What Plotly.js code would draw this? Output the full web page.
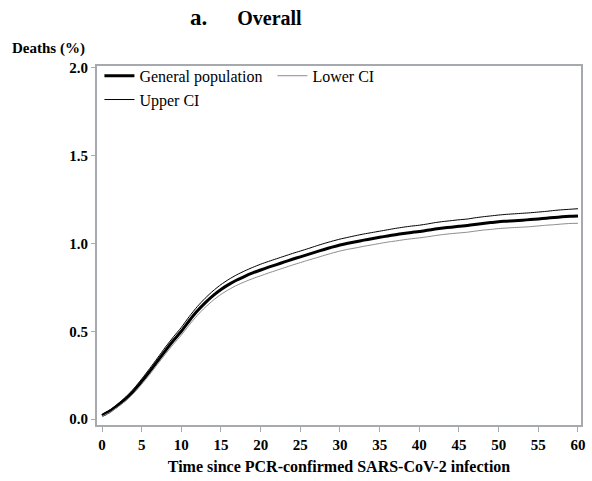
<!DOCTYPE html>
<html>
<head>
<meta charset="utf-8">
<script src="https://cdn.plot.ly/plotly-3.0.1.min.js"></script>
<style>html,body{margin:0;padding:0;background:#fff;}#chart{width:592px;height:481px;}</style>
</head>
<body>
<div id="chart"></div>
<script>
var days = [0,1,2,3,4,5,6,7,8,9,10,11,12,13,14,15,16,17,18,19,20,21,22,23,24,25,26,27,28,29,30,31,32,33,34,35,36,37,38,39,40,41,42,43,44,45,46,47,48,49,50,51,52,53,54,55,56,57,58,59,60];
var generalPopulation = [0.020,0.045,0.078,0.115,0.160,0.213,0.270,0.330,0.390,0.447,0.500,0.560,0.615,0.662,0.703,0.738,0.767,0.792,0.813,0.832,0.849,0.865,0.880,0.895,0.910,0.924,0.938,0.952,0.966,0.979,0.991,1.001,1.010,1.019,1.027,1.035,1.043,1.050,1.057,1.063,1.068,1.075,1.082,1.088,1.093,1.098,1.102,1.108,1.114,1.119,1.124,1.127,1.130,1.133,1.136,1.140,1.144,1.148,1.152,1.155,1.157];
var upperCI = [0.025,0.052,0.087,0.126,0.173,0.228,0.287,0.348,0.410,0.468,0.522,0.584,0.640,0.688,0.730,0.766,0.796,0.822,0.844,0.864,0.882,0.898,0.913,0.928,0.943,0.957,0.971,0.986,1.000,1.013,1.025,1.035,1.045,1.054,1.062,1.070,1.078,1.086,1.093,1.099,1.104,1.111,1.119,1.125,1.130,1.135,1.139,1.146,1.152,1.157,1.162,1.166,1.169,1.172,1.175,1.179,1.183,1.188,1.192,1.195,1.198];
var lowerCI = [0.015,0.038,0.069,0.104,0.147,0.198,0.253,0.312,0.370,0.426,0.478,0.536,0.590,0.636,0.676,0.710,0.738,0.762,0.782,0.800,0.816,0.832,0.847,0.862,0.877,0.891,0.905,0.918,0.932,0.945,0.957,0.967,0.975,0.984,0.992,1.000,1.008,1.014,1.021,1.027,1.032,1.038,1.045,1.051,1.056,1.060,1.064,1.070,1.076,1.080,1.085,1.088,1.091,1.093,1.096,1.100,1.104,1.107,1.111,1.114,1.115];
var xTicks = [0,5,10,15,20,25,30,35,40,45,50,55,60];
var yTicks = [0.0,0.5,1.0,1.5,2.0];
var yTickLabels = ['0.0','0.5','1.0','1.5','2.0'];

var serif = 'Liberation Serif';
var traces = [
  {x: days, y: generalPopulation, name: 'General population', mode: 'lines', line: {color: '#000000', width: 3, shape: 'spline', smoothing: 0.6}},
  {x: days, y: lowerCI, name: 'Lower CI', mode: 'lines', line: {color: '#8c8c8c', width: 1, shape: 'spline', smoothing: 0.6}},
  {x: days, y: upperCI, name: 'Upper CI', mode: 'lines', line: {color: '#000000', width: 1, shape: 'spline', smoothing: 0.6}}
];
var layout = {
  width: 592, height: 481,
  margin: {l: 97, r: 11, t: 66, b: 56},
  paper_bgcolor: '#ffffff', plot_bgcolor: '#ffffff',
  font: {family: serif, color: '#000000'},
  title: {text: '<b><span style="font-size:23px">a.</span>\u00a0\u00a0\u00a0\u00a0\u00a0\u00a0Overall</b>', font: {family: serif, size: 20, color: '#000'}, x: 190/592, xanchor: 'left', xref: 'container', y: 1-18/481, yanchor: 'middle'},
  showlegend: true,
  legend: {orientation: 'h', x: 0.005, y: 1.02, xanchor: 'left', yanchor: 'top', bgcolor: 'rgba(0,0,0,0)', font: {family: serif, size: 16, color: '#000'}, entrywidth: 128, entrywidthmode: 'pixels', tracegroupgap: 0},
  xaxis: {
    range: [-0.63, 60.38], tickvals: xTicks, ticktext: xTicks.map(String),
    showline: true, mirror: true, linecolor: '#a6aaae', linewidth: 2,
    ticks: 'outside', ticklen: 5, tickcolor: '#a6aaae', tickwidth: 1,
    showgrid: false, zeroline: false,
    tickfont: {family: serif, size: 15, color: '#000', weight: 'bold'},
    title: {text: '<b>Time since PCR-confirmed SARS-CoV-2 infection</b>', font: {family: serif, size: 16, color: '#000'}, standoff: 9}
  },
  yaxis: {
    range: [-0.034, 2.011], tickvals: yTicks, ticktext: yTickLabels,
    showline: true, mirror: true, linecolor: '#a6aaae', linewidth: 2,
    ticks: 'outside', ticklen: 4, tickcolor: '#a6aaae', tickwidth: 1,
    showgrid: false, zeroline: false,
    tickfont: {family: serif, size: 15, color: '#000', weight: 'bold'}
  },
  annotations: [
    {text: '<b>Deaths (%)</b>', xref: 'paper', yref: 'paper', x: -97/484 + 10/484, y: 1 + (66-48)/359, xanchor: 'left', yanchor: 'middle', showarrow: false, font: {family: serif, size: 15, color: '#000'}}
  ]
};
Plotly.newPlot('chart', traces, layout, {displayModeBar: false, staticPlot: true});
</script>
</body>
</html>
